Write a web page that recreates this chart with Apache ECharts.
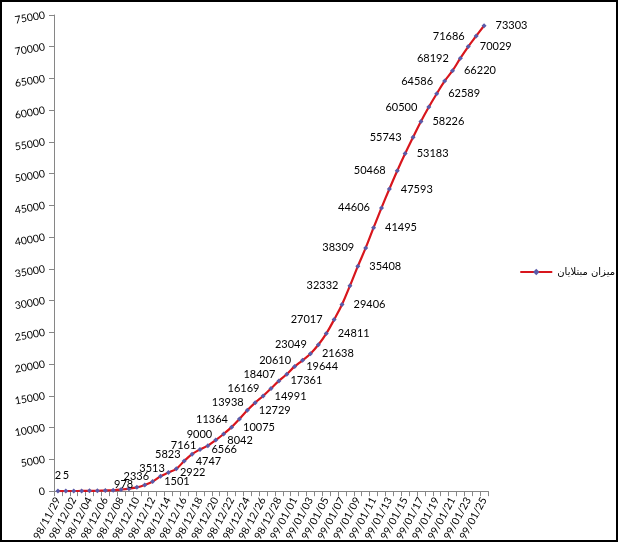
<!DOCTYPE html>
<html>
<head>
<meta charset="utf-8">
<script src="https://cdn.jsdelivr.net/npm/echarts@6/dist/echarts.min.js"></script>
<style>
html,body{margin:0;padding:0;background:#fff;}
#c{width:619px;height:544px;}
</style>
</head>
<body>
<div id="c"></div>
<script>
const categories = [
  "98/11/29","98/12/01","98/12/02","98/12/03","98/12/04","98/12/05","98/12/06","98/12/07","98/12/08","98/12/09",
  "98/12/10","98/12/11","98/12/12","98/12/13","98/12/14","98/12/15","98/12/16","98/12/17","98/12/18","98/12/19",
  "98/12/20","98/12/21","98/12/22","98/12/23","98/12/24","98/12/25","98/12/26","98/12/27","98/12/28","98/12/29",
  "99/01/01","99/01/02","99/01/03","99/01/04","99/01/05","99/01/06","99/01/07","99/01/08","99/01/09","99/01/10",
  "99/01/11","99/01/12","99/01/13","99/01/14","99/01/15","99/01/16","99/01/17","99/01/18","99/01/19","99/01/20",
  "99/01/21","99/01/22","99/01/23","99/01/24","99/01/25"
];
const infected = [
  2,5,18,28,43,61,95,139,245,388,
  593,978,1501,2336,2922,3513,4747,5823,6566,7161,
  8042,9000,10075,11364,12729,13938,14991,16169,17361,18407,
  19644,20610,21638,23049,24811,27017,29406,32332,35408,38309,
  41495,44606,47593,50468,53183,55743,58226,60500,62589,64586,
  66220,68192,70029,71686,73303
];
const yTicks = [0,5000,10000,15000,20000,25000,30000,35000,40000,45000,50000,55000,60000,65000,70000,75000];
const seriesName = "میزان مبتلایان";

const FONT = "Lato";
const seriesData = infected.map((v, i) => {
  let label;
  if (i < 2) label = {show: true, position: 'top', distance: 8};
  else if (i < 11) label = {show: false};
  else label = {show: true, position: (i % 2 === 1) ? 'left' : 'right', distance: 9};
  return {value: v, label: label};
});

const chart = echarts.init(document.getElementById('c'), null, {renderer: 'canvas'});
chart.setOption({
  animation: false,
  backgroundColor: '#ffffff',
  textStyle: {fontFamily: FONT},
  grid: {left: 54, right: 131, top: 15, bottom: 52.5, containLabel: false},
  legend: {
    data: [seriesName],
    right: 4, top: 267, orient: 'vertical', padding: 0,
    itemWidth: 32, itemHeight: 8, itemGap: 4,
    textStyle: {fontFamily: "DejaVu Sans", fontSize: 10, color: '#000'}
  },
  xAxis: {
    type: 'category',
    data: categories,
    boundaryGap: true,
    axisLine: {lineStyle: {color: '#868686', width: 1}},
    axisTick: {show: true, interval: 0, length: 5, lineStyle: {color: '#868686'}},
    axisLabel: {interval: 1, rotate: 62, fontFamily: FONT, fontSize: 10.5, color: '#000', margin: 7}
  },
  yAxis: {
    type: 'value',
    min: yTicks[0], max: yTicks[yTicks.length - 1], interval: yTicks[1] - yTicks[0],
    splitLine: {show: false},
    axisLine: {show: true, lineStyle: {color: '#868686', width: 1}},
    axisTick: {show: true, length: 5, inside: false, lineStyle: {color: '#868686'}},
    axisLabel: {rotate: 10, fontFamily: FONT, fontSize: 10.5, color: '#000', margin: 9,
      formatter: v => String(v)}
  },
  series: [{
    name: seriesName,
    type: 'line',
    smooth: 0.4,
    data: seriesData,
    symbol: 'diamond',
    symbolSize: 5,
    showAllSymbol: true,
    lineStyle: {color: '#d8161d', width: 2.2},
    itemStyle: {color: '#5a5aa8', borderWidth: 0},
    label: {color: '#000', fontFamily: FONT, fontSize: 11},
    z: 3
  }],
  graphic: [{
    type: 'rect',
    shape: {x: 1, y: 1, width: 616, height: 540},
    style: {fill: 'none', stroke: '#000', lineWidth: 2},
    silent: true, z: 100
  }]
});
</script>
</body>
</html>
